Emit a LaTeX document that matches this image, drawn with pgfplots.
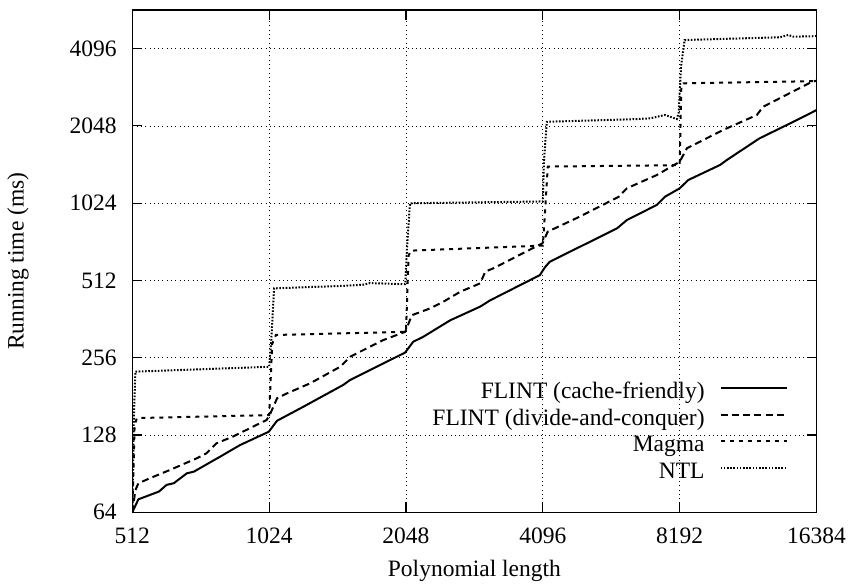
\documentclass[border=0pt]{standalone}
\usepackage{fontspec}
\setmainfont{Liberation Serif}
\usepackage{pgfplots}
\pgfplotsset{compat=1.18}
\begin{document}
\fontsize{23.5bp}{28bp}\selectfont
\begin{tikzpicture}
\begin{axis}[
  name=ax,
  scale only axis,
  width=684.2bp, height=502.3bp,
  xmode=log, ymode=log, log basis x=2, log basis y=2,
  xmin=512, xmax=16384, ymin=64, ymax=5792.6,
  xtick={512,1024,2048,4096,8192,16384},
  xticklabels={512,1024,2048,4096,8192,16384},
  ytick={64,128,256,512,1024,2048,4096},
  yticklabels={64,128,256,512,1024,2048,4096},
  xminorticks=false, yminorticks=false,
  tick pos=both, tick align=inside,
  major tick length=10bp,
  grid=major,
  major grid style={line width=0.7bp, dash pattern=on 1bp off 3.3bp, black},
  axis line style={line width=1.4bp},
  every tick/.style={line width=1.2bp, black},
  /pgf/number format/assume math mode=true,
  xticklabel style={anchor=north, inner sep=0pt, yshift=-15.5bp},
  yticklabel style={anchor=east, inner sep=0pt, xshift=-15.6bp},
  xlabel={Polynomial length},
  ylabel={Running time (ms)},
  xlabel style={at={(axis description cs:0.5,-0.117)}, anchor=center},
  ylabel style={at={(axis description cs:-0.167,0.5)}, anchor=center},
  legend plot pos=right,
  legend cell align=right,
  legend style={draw=none, fill=none, at={(rel axis cs:0.958,0.157)}, anchor=east,
    inner sep=0pt, column sep=15bp, row sep=4.7bp,
    nodes={inner sep=0pt, text height=16bp, text depth=6bp}},
  legend image code/.code={\draw[#1, line width=2bp] (0bp,0.5ex) -- (66bp,0.5ex);},
]
\addplot[black, line width=2bp, line join=round] coordinates {
(512,64) (528,71.9) (586,77.1) (609,81.8) (632,83.1) (675,90.8) (699,92.1)
(799,105.4) (884,117) (1022,131.8) (1066,145.5) (1218,165) (1490,200.5)
(1543,209.7) (1767,236.3) (2038,268) (2125,295.6) (2236,309) (2561,358)
(2983,405) (3134,428) (4034,537) (4137,575) (4240,605) (4784,673) (5964,817)
(6269,880) (7295,1008) (7600,1084) (8192,1170) (8560,1261) (10053,1443)
(10400,1508) (12278,1832) (14570,2125) (16384,2360)
};
\addlegendentry{FLINT (cache-friendly)}
\addplot[black, line width=2bp, dash pattern=on 7bp off 4.3bp] coordinates {
(512,64) (520,78) (528,83) (559,86.8) (619,93.5) (710,103.9) (746,108.7)
(784,118.8) (853,126.3) (1011,146.5) (1030,155) (1066,178) (1121,186)
(1261,203.6) (1469,236.3) (1545,258.6) (1826,300) (2040,323) (2110,375)
(2318,399) (2480,424) (2698,463) (2983,499) (3060,554) (3188,571) (4090,715)
(4198,793) (4946,909) (6013,1084) (6269,1170) (7295,1318) (8192,1485)
(8498,1676) (10218,1976) (12110,2259) (12508,2433) (16020,3045) (16384,3070)
};
\addlegendentry{FLINT (divide-and-conquer)}
\addplot[black, line width=2bp, dash pattern=on 4bp off 5bp] coordinates {
(512,64) (518,140) (524,149) (1024,153) (1040,290) (1060,314) (2048,323)
(2075,640) (2100,669) (4096,700) (4150,1000) (4200,1422) (8192,1440)
(8260,2900) (8350,3001) (16384,3060)
};
\addlegendentry{Magma}
\addplot[black, line width=2bp, dash pattern=on 1.6bp off 1.6bp] coordinates {
(512,64) (516,150) (520,226) (1024,236) (1035,300) (1050,477) (1500,488)
(1650,493) (1706,500) (2040,495) (2060,700) (2090,1023) (4096,1040)
(4120,1500) (4180,2125) (6500,2175) (7060,2192) (7600,2259) (8075,2178)
(8150,2300) (8250,3500) (8400,4424) (13600,4535) (14200,4630) (14560,4560)
(16384,4580)
};
\addlegendentry{NTL}
\end{axis}
\pgfresetboundingbox
\path ([xshift=-132.3bp,yshift=-72.7bp]ax.south west) rectangle ([xshift=34.5bp,yshift=10bp]ax.north east);
\end{tikzpicture}
\end{document}
